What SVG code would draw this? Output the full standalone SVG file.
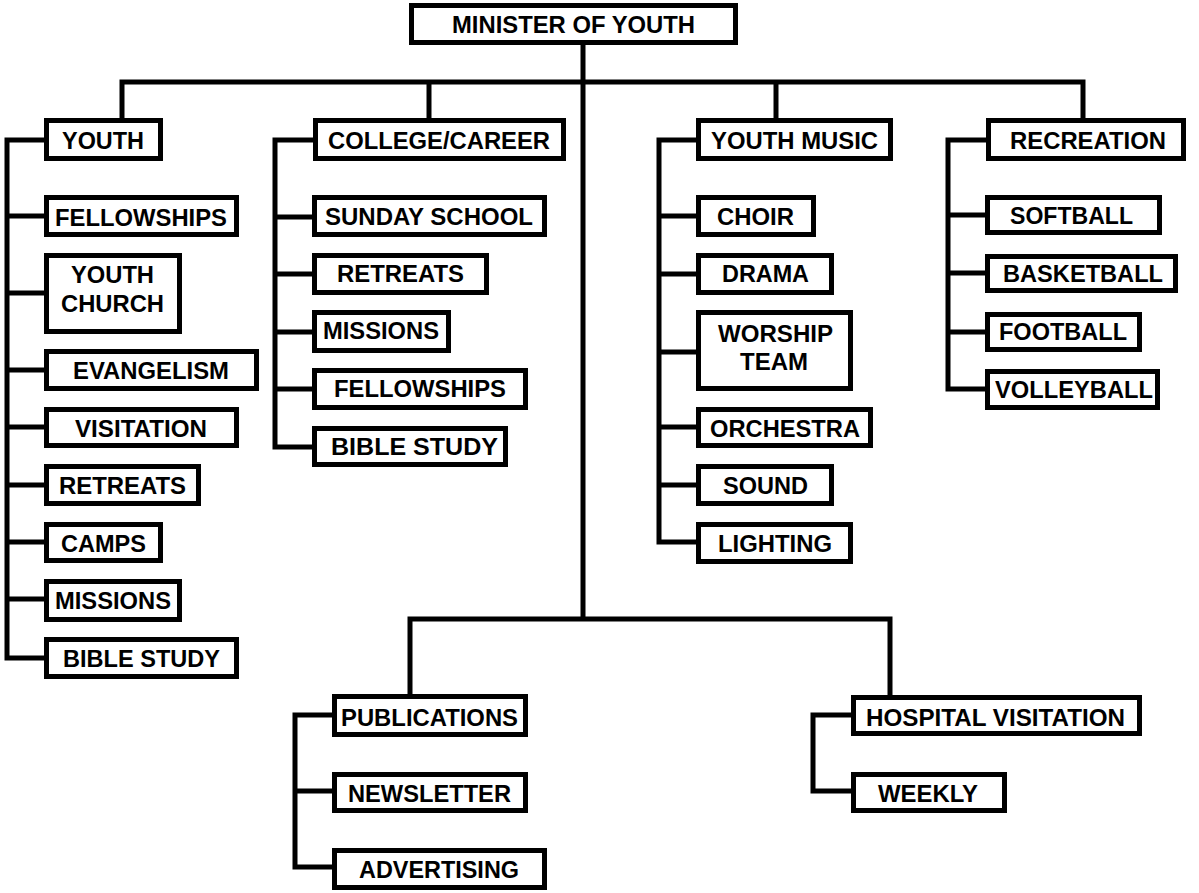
<svg xmlns="http://www.w3.org/2000/svg" width="1199" height="893" viewBox="0 0 1199 893">
  <style>
    .box { fill: #ffffff; stroke: #000000; stroke-width: 5; }
    .wire { fill: none; stroke: #000000; stroke-width: 5; stroke-linejoin: miter; stroke-linecap: butt; }
    text { font-family: "Liberation Sans", Arial, Helvetica, sans-serif; font-weight: bold; font-size: 23px; fill: #000000; }
  </style>
  <rect width="1199" height="893" fill="#ffffff"/>

  <g id="connectors">
    <!-- trunk and buses -->
    <path class="wire" d="M583,45 V619"/>
    <path class="wire" d="M122,118 V82 H1083 V118"/>
    <path class="wire" d="M429,82 V118"/>
    <path class="wire" d="M776,82 V118"/>
    <path class="wire" d="M410,694 V619 H890 V695"/>
    <!-- youth spine -->
    <path class="wire" d="M44,140 H7 V658 H44"/>
    <path class="wire" d="M7,216 H44 M7,293 H44 M7,370 H44 M7,427 H44 M7,485 H44 M7,542 H44 M7,599 H44"/>
    <!-- college/career spine -->
    <path class="wire" d="M313,140 H275 V447 H312"/>
    <path class="wire" d="M275,217 H312 M275,274 H312 M275,332 H312 M275,389 H312"/>
    <!-- youth music spine -->
    <path class="wire" d="M696,140 H659 V542 H696"/>
    <path class="wire" d="M659,216 H696 M659,274 H696 M659,352 H696 M659,427 H696 M659,485 H696"/>
    <!-- recreation spine -->
    <path class="wire" d="M986,140 H948 V389 H985"/>
    <path class="wire" d="M948,215 H985 M948,273 H985 M948,332 H985"/>
    <!-- publications spine -->
    <path class="wire" d="M332,715 H295 V867 H332"/>
    <path class="wire" d="M295,791 H332"/>
    <!-- hospital visitation spine -->
    <path class="wire" d="M851,715 H813 V791 H851"/>
  </g>

  <g id="minister">
    <rect class="box" x="411.5" y="5.5" width="324" height="37"/>
    <text x="452" y="33" textLength="243" lengthAdjust="spacingAndGlyphs">MINISTER OF YOUTH</text>
  </g>

  <!-- first level -->
  <g id="youth">
    <rect class="box" x="46.5" y="120.5" width="114" height="38"/>
    <text x="62" y="149" textLength="82" lengthAdjust="spacingAndGlyphs">YOUTH</text>
  </g>
  <g id="college-career">
    <rect class="box" x="315.5" y="120.5" width="248" height="38"/>
    <text x="328" y="149" textLength="222" lengthAdjust="spacingAndGlyphs">COLLEGE/CAREER</text>
  </g>
  <g id="youth-music">
    <rect class="box" x="698.5" y="120.5" width="192" height="38"/>
    <text x="711" y="149" textLength="167" lengthAdjust="spacingAndGlyphs">YOUTH MUSIC</text>
  </g>
  <g id="recreation">
    <rect class="box" x="988.5" y="120.5" width="195" height="38"/>
    <text x="1010" y="149" textLength="156" lengthAdjust="spacingAndGlyphs">RECREATION</text>
  </g>

  <!-- youth items -->
  <g id="youth-fellowships">
    <rect class="box" x="46.5" y="197.5" width="190" height="37"/>
    <text x="55" y="226" textLength="172" lengthAdjust="spacingAndGlyphs">FELLOWSHIPS</text>
  </g>
  <g id="youth-church">
    <rect class="box" x="46.5" y="255.5" width="133" height="76"/>
    <text x="71" y="283" textLength="83" lengthAdjust="spacingAndGlyphs">YOUTH</text>
    <text x="61" y="312" textLength="103" lengthAdjust="spacingAndGlyphs">CHURCH</text>
  </g>
  <g id="youth-evangelism">
    <rect class="box" x="46.5" y="351.5" width="210" height="37"/>
    <text x="73" y="379" textLength="156" lengthAdjust="spacingAndGlyphs">EVANGELISM</text>
  </g>
  <g id="youth-visitation">
    <rect class="box" x="46.5" y="409.5" width="190" height="36"/>
    <text x="75" y="437" textLength="132" lengthAdjust="spacingAndGlyphs">VISITATION</text>
  </g>
  <g id="youth-retreats">
    <rect class="box" x="46.5" y="466.5" width="152" height="37"/>
    <text x="59" y="494" textLength="127" lengthAdjust="spacingAndGlyphs">RETREATS</text>
  </g>
  <g id="youth-camps">
    <rect class="box" x="46.5" y="524.5" width="114" height="36"/>
    <text x="61" y="552" textLength="85" lengthAdjust="spacingAndGlyphs">CAMPS</text>
  </g>
  <g id="youth-missions">
    <rect class="box" x="46.5" y="581.5" width="133" height="38"/>
    <text x="55" y="609" textLength="116" lengthAdjust="spacingAndGlyphs">MISSIONS</text>
  </g>
  <g id="youth-bible-study">
    <rect class="box" x="46.5" y="639.5" width="190" height="37"/>
    <text x="63" y="667" textLength="157" lengthAdjust="spacingAndGlyphs">BIBLE STUDY</text>
  </g>

  <!-- college/career items -->
  <g id="cc-sunday-school">
    <rect class="box" x="314.5" y="197.5" width="230" height="37"/>
    <text x="325" y="225" textLength="208" lengthAdjust="spacingAndGlyphs">SUNDAY SCHOOL</text>
  </g>
  <g id="cc-retreats">
    <rect class="box" x="314.5" y="255.5" width="172" height="37"/>
    <text x="337" y="282" textLength="127" lengthAdjust="spacingAndGlyphs">RETREATS</text>
  </g>
  <g id="cc-missions">
    <rect class="box" x="314.5" y="312.5" width="134" height="38"/>
    <text x="323" y="339" textLength="116" lengthAdjust="spacingAndGlyphs">MISSIONS</text>
  </g>
  <g id="cc-fellowships">
    <rect class="box" x="314.5" y="370.5" width="211" height="37"/>
    <text x="334" y="397" textLength="172" lengthAdjust="spacingAndGlyphs">FELLOWSHIPS</text>
  </g>
  <g id="cc-bible-study">
    <rect class="box" x="314.5" y="428.5" width="191" height="36"/>
    <text x="331" y="455" textLength="167" lengthAdjust="spacingAndGlyphs">BIBLE STUDY</text>
  </g>

  <!-- youth music items -->
  <g id="ym-choir">
    <rect class="box" x="698.5" y="197.5" width="115" height="37"/>
    <text x="717" y="225" textLength="77" lengthAdjust="spacingAndGlyphs">CHOIR</text>
  </g>
  <g id="ym-drama">
    <rect class="box" x="698.5" y="255.5" width="133" height="37"/>
    <text x="722" y="282" textLength="87" lengthAdjust="spacingAndGlyphs">DRAMA</text>
  </g>
  <g id="ym-worship-team">
    <rect class="box" x="698.5" y="312.5" width="152" height="76"/>
    <text x="718" y="342" textLength="115" lengthAdjust="spacingAndGlyphs">WORSHIP</text>
    <text x="740" y="370" textLength="68" lengthAdjust="spacingAndGlyphs">TEAM</text>
  </g>
  <g id="ym-orchestra">
    <rect class="box" x="698.5" y="409.5" width="172" height="36"/>
    <text x="710" y="437" textLength="150" lengthAdjust="spacingAndGlyphs">ORCHESTRA</text>
  </g>
  <g id="ym-sound">
    <rect class="box" x="698.5" y="466.5" width="133" height="37"/>
    <text x="723" y="494" textLength="85" lengthAdjust="spacingAndGlyphs">SOUND</text>
  </g>
  <g id="ym-lighting">
    <rect class="box" x="698.5" y="524.5" width="152" height="37"/>
    <text x="718" y="552" textLength="114" lengthAdjust="spacingAndGlyphs">LIGHTING</text>
  </g>

  <!-- recreation items -->
  <g id="rec-softball">
    <rect class="box" x="987.5" y="197.5" width="172" height="35"/>
    <text x="1010" y="224" textLength="123" lengthAdjust="spacingAndGlyphs">SOFTBALL</text>
  </g>
  <g id="rec-basketball">
    <rect class="box" x="987.5" y="256.5" width="188" height="34"/>
    <text x="1003" y="282" textLength="160" lengthAdjust="spacingAndGlyphs">BASKETBALL</text>
  </g>
  <g id="rec-football">
    <rect class="box" x="987.5" y="314.5" width="152" height="35"/>
    <text x="999" y="340" textLength="128" lengthAdjust="spacingAndGlyphs">FOOTBALL</text>
  </g>
  <g id="rec-volleyball">
    <rect class="box" x="987.5" y="371.5" width="170" height="36"/>
    <text x="995" y="398" textLength="158" lengthAdjust="spacingAndGlyphs">VOLLEYBALL</text>
  </g>

  <!-- lower branches -->
  <g id="publications">
    <rect class="box" x="334.5" y="696.5" width="191" height="38"/>
    <text x="341" y="726" textLength="177" lengthAdjust="spacingAndGlyphs">PUBLICATIONS</text>
  </g>
  <g id="pub-newsletter">
    <rect class="box" x="334.5" y="774.5" width="191" height="36"/>
    <text x="348" y="802" textLength="163" lengthAdjust="spacingAndGlyphs">NEWSLETTER</text>
  </g>
  <g id="pub-advertising">
    <rect class="box" x="334.5" y="850.5" width="210" height="37"/>
    <text x="359" y="878" textLength="160" lengthAdjust="spacingAndGlyphs">ADVERTISING</text>
  </g>
  <g id="hospital-visitation">
    <rect class="box" x="853.5" y="697.5" width="286" height="36"/>
    <text x="866" y="726" textLength="259" lengthAdjust="spacingAndGlyphs">HOSPITAL VISITATION</text>
  </g>
  <g id="hv-weekly">
    <rect class="box" x="853.5" y="774.5" width="151" height="36"/>
    <text x="878" y="802" textLength="100" lengthAdjust="spacingAndGlyphs">WEEKLY</text>
  </g>
</svg>
